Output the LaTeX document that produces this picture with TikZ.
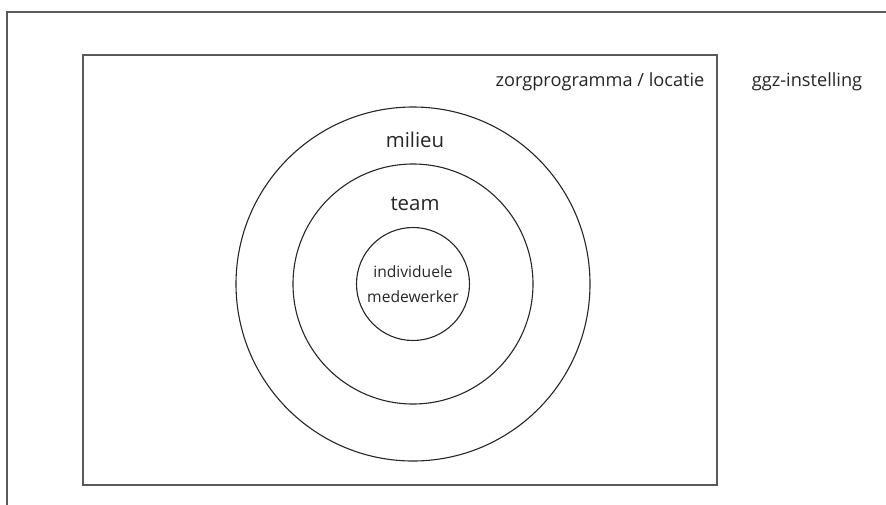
\documentclass[tikz,border=0pt]{standalone}
\usepackage{fontspec}
\setmainfont{Open Sans}
\begin{document}
\begin{tikzpicture}[x=1pt,y=-1pt,
  frame/.style={draw=black!65,line width=1.6pt},
  ring/.style={draw=black!85,line width=1.1pt,circle,inner sep=0pt},
  lab/.style={inner sep=0pt,text=black!85,font=\fontsize{18.2}{21}\selectfont},
  biglab/.style={inner sep=0pt,text=black!85,font=\fontsize{20.4}{24}\selectfont},
  smalllab/.style={inner sep=0pt,text=black!85,align=center,font=\fontsize{15.6}{25}\selectfont}]
\useasboundingbox (0,0) rectangle (886,504);
\coordinate (oTR) at (892,12);
\coordinate (oTL) at (7,12);
\coordinate (oBL) at (7,512);
\draw[frame] (oTR) -- (oTL) -- (oBL);
\node[frame,rectangle,minimum width=634pt,minimum height=430pt,anchor=north west,inner sep=0pt] (prog) at (82,54) {};
\node[ring,minimum size=354pt] (milieuc) at (413,284) {};
\node[ring,minimum size=240pt] (teamc) at (413,284) {};
\node[ring,minimum size=113pt,smalllab] (ind) at (413,284) {individuele\\medewerker};
\node[biglab] (milieu) at (415,140) {milieu};
\node[biglab] (team) at (415,204) {team};
\node[lab] (zorg) at (600,82) {zorgprogramma / locatie};
\node[lab] (ggz) at (807,82) {ggz-instelling};
\end{tikzpicture}
\end{document}
